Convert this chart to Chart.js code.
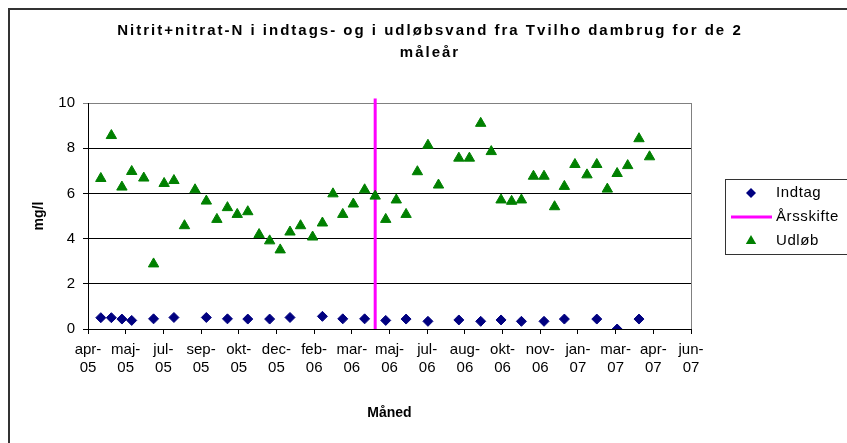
<!DOCTYPE html>
<html lang="da">
<head>
<meta charset="utf-8">
<title>Nitrit+nitrat-N Tvilho dambrug</title>
<script src="https://cdn.jsdelivr.net/npm/chart.js"></script>
<style>
    html, body { margin: 0; padding: 0; background: #fff; }
    #wrap { width: 847px; height: 443px; position: relative; }
</style>
</head>
<body>
<div id="wrap"><canvas id="chart"></canvas></div>
<script>
// ─────────────────────────────────────────────────────────────────────────────
//  Nitrit+nitrat-N i indtags- og udløbsvand, Tvilho dambrug (2 måleår)
//  Scatter chart on a day axis, ticks every 50 days like the Excel original.
// ─────────────────────────────────────────────────────────────────────────────

const axisStart = '2005-04-08';          // day 0 on the x axis
const axisDays = 800;
const tickStepDays = 50;
const monthNames = ['jan', 'feb', 'mar', 'apr', 'maj', 'jun', 'jul', 'aug', 'sep', 'okt', 'nov', 'dec'];
const yTicks = [0, 2, 4, 6, 8, 10];

const indtagDatoer = [
    '2005-04-25', '2005-05-09', '2005-05-23', '2005-06-05', '2005-07-04', '2005-07-31',
    '2005-09-12', '2005-10-10', '2005-11-06', '2005-12-05', '2006-01-01', '2006-02-13',
    '2006-03-12', '2006-04-10', '2006-05-08', '2006-06-04', '2006-07-03', '2006-08-13',
    '2006-09-11', '2006-10-08', '2006-11-04', '2006-12-04', '2006-12-31', '2007-02-12',
    '2007-03-11', '2007-04-09'
];
const indtagVaerdier = [
    0.50, 0.50, 0.44, 0.38, 0.45, 0.51,
    0.51, 0.45, 0.44, 0.44, 0.51, 0.56,
    0.45, 0.45, 0.38, 0.44, 0.34, 0.40,
    0.34, 0.40, 0.34, 0.34, 0.44, 0.44,
    0.00, 0.44
];

const udlobDatoer = [
    '2005-04-25', '2005-05-09', '2005-05-23', '2005-06-05', '2005-06-21', '2005-07-04',
    '2005-07-18', '2005-07-31', '2005-08-14', '2005-08-28', '2005-09-12', '2005-09-26',
    '2005-10-10', '2005-10-23', '2005-11-06', '2005-11-21', '2005-12-05', '2005-12-19',
    '2006-01-01', '2006-01-15', '2006-01-31', '2006-02-13', '2006-02-27', '2006-03-12',
    '2006-03-26', '2006-04-10', '2006-04-24', '2006-05-08', '2006-05-22', '2006-06-04',
    '2006-06-19', '2006-07-03', '2006-07-17', '2006-08-13', '2006-08-27', '2006-09-11',
    '2006-09-25', '2006-10-08', '2006-10-22', '2006-11-04', '2006-11-20', '2006-12-04',
    '2006-12-18', '2006-12-31', '2007-01-14', '2007-01-30', '2007-02-12', '2007-02-26',
    '2007-03-11', '2007-03-25', '2007-04-09', '2007-04-23'
];
const udlobVaerdier = [
    6.66, 8.56, 6.28, 6.97, 6.68, 2.88,
    6.44, 6.57, 4.57, 6.16, 5.66, 4.85,
    5.37, 5.07, 5.19, 4.18, 3.90, 3.50,
    4.29, 4.57, 4.07, 4.69, 5.98, 5.07,
    5.53, 6.16, 5.88, 4.85, 5.71, 5.07,
    6.96, 8.13, 6.37, 7.56, 7.56, 9.10,
    7.85, 5.71, 5.65, 5.71, 6.76, 6.76,
    5.41, 6.31, 7.28, 6.82, 7.28, 6.19,
    6.88, 7.23, 8.42, 7.62
];

// year shift marker (vertical line)
const aarsskifteDato = '2006-04-24';
const aarsskifteY = [0, 10.2];

const DAY = 86400000;
const dayOf = d => (Date.parse(d) - Date.parse(axisStart)) / DAY;
const points = (dates, values) => dates.map((d, i) => ({ x: dayOf(d), y: values[i] }));

Chart.defaults.font.family = '"Liberation Sans", Arial, sans-serif';
Chart.defaults.font.size = 15;
Chart.defaults.color = '#000';

// title, frames and the boxed legend on the right (Excel look)
const excelFrame = {
    id: 'excelFrame',
    afterDraw(chart) {
        const { ctx, chartArea: a } = chart;
        ctx.save();

        // outer chart border (right/bottom fall outside the picture)
        ctx.strokeStyle = '#333';
        ctx.lineWidth = 2;
        ctx.strokeRect(9, 9, 900, 500);

        // plot area right edge
        ctx.strokeStyle = '#808080';
        ctx.lineWidth = 1;
        ctx.beginPath();
        ctx.moveTo(a.right + 0.5, a.top);
        ctx.lineTo(a.right + 0.5, a.bottom);
        ctx.stroke();

        // title
        ctx.fillStyle = '#000';
        ctx.font = 'bold 15px "Liberation Sans", Arial, sans-serif';
        ctx.textAlign = 'center';
        ctx.textBaseline = 'middle';
        ctx.letterSpacing = '2px';
        ctx.fillText('Nitrit+nitrat-N i indtags- og i udløbsvand fra Tvilho dambrug for de 2', 430, 31);
        ctx.fillText('måleår', 430, 53);

        // legend
        ctx.letterSpacing = '0.6px';
        ctx.strokeStyle = '#333';
        ctx.strokeRect(725.5, 179.5, 130, 75);
        ctx.font = '15px "Liberation Sans", Arial, sans-serif';
        ctx.textAlign = 'left';
        chart.data.datasets.forEach((ds, i) => {
            const y = 193 + i * 24;
            ctx.fillStyle = ds.backgroundColor;
            ctx.strokeStyle = ds.borderColor;
            if (ds.showLine) {
                ctx.lineWidth = ds.borderWidth;
                ctx.beginPath();
                ctx.moveTo(731, y);
                ctx.lineTo(772, y);
                ctx.stroke();
            } else {
                const r = ds.pointRadius;
                ctx.beginPath();
                if (ds.pointStyle === 'rectRot') {
                    ctx.moveTo(751, y - r);
                    ctx.lineTo(751 + r, y);
                    ctx.lineTo(751, y + r);
                    ctx.lineTo(751 - r, y);
                } else {
                    ctx.moveTo(751, y - r);
                    ctx.lineTo(751 + r * 0.866, y + r / 2);
                    ctx.lineTo(751 - r * 0.866, y + r / 2);
                }
                ctx.closePath();
                ctx.fill();
            }
            ctx.fillStyle = '#000';
            ctx.fillText(ds.label, 776, y);
        });
        ctx.restore();
    }
};

new Chart(document.getElementById('chart').getContext('2d'), {
    type: 'scatter',
    data: {
        datasets: [
            {
                label: 'Indtag',
                data: points(indtagDatoer, indtagVaerdier),
                pointStyle: 'rectRot',
                pointRadius: 5,
                backgroundColor: '#000080',
                borderColor: '#000080',
                borderWidth: 1,
                order: 0
            },
            {
                label: 'Årsskifte',
                data: aarsskifteY.map(y => ({ x: dayOf(aarsskifteDato), y })),
                showLine: true,
                pointRadius: 0,
                borderColor: '#ff00ff',
                backgroundColor: '#ff00ff',
                borderWidth: 3,
                clip: false,
                order: 2
            },
            {
                label: 'Udløb',
                data: points(udlobDatoer, udlobVaerdier),
                pointStyle: 'triangle',
                pointRadius: 6,
                backgroundColor: '#008000',
                borderColor: '#008000',
                borderWidth: 1,
                order: 1
            }
        ]
    },
    options: {
        responsive: true,
        maintainAspectRatio: false,
        animation: false,
        layout: { padding: { top: 103, right: 156, bottom: 0, left: 0 } },
        plugins: {
            legend: { display: false },
            title: { display: false },
            tooltip: { enabled: false }
        },
        scales: {
            x: {
                type: 'linear',
                min: 0,
                max: axisDays,
                afterFit: s => { s.height = 114; },
                afterBuildTicks: s => {
                    s.ticks = [];
                    for (let v = 0; v <= axisDays; v += tickStepDays) s.ticks.push({ value: v });
                },
                ticks: {
                    autoSkip: false,
                    maxRotation: 0,
                    padding: 7,
                    font: { size: 15, lineHeight: 1.2 },
                    callback: v => {
                        const d = new Date(Date.parse(axisStart) + v * DAY);
                        return [monthNames[d.getUTCMonth()] + '-', String(d.getUTCFullYear()).slice(2)];
                    }
                },
                grid: { drawOnChartArea: false, drawTicks: true, tickLength: 5, color: '#000' },
                border: { color: '#000', width: 1 },
                title: {
                    display: true,
                    text: 'Måned',
                    font: { weight: 'bold', size: 14, lineHeight: 1.2 },
                    padding: { top: 0, bottom: 21 }
                }
            },
            y: {
                min: 0,
                max: 10,
                afterFit: s => { s.width = 88; },
                afterBuildTicks: s => { s.ticks = yTicks.map(v => ({ value: v })); },
                ticks: { padding: 8, font: { size: 15 } },
                grid: {
                    tickLength: 5,
                    color: c => (c.tick && c.tick.value === 10 ? '#808080' : '#000')
                },
                border: { color: '#000', width: 1 },
                title: {
                    display: true,
                    text: 'mg/l',
                    font: { weight: 'bold', size: 14, lineHeight: 1.2 },
                    padding: { top: 31, bottom: 0 }
                }
            }
        }
    },
    plugins: [excelFrame]
});
</script>
</body>
</html>
